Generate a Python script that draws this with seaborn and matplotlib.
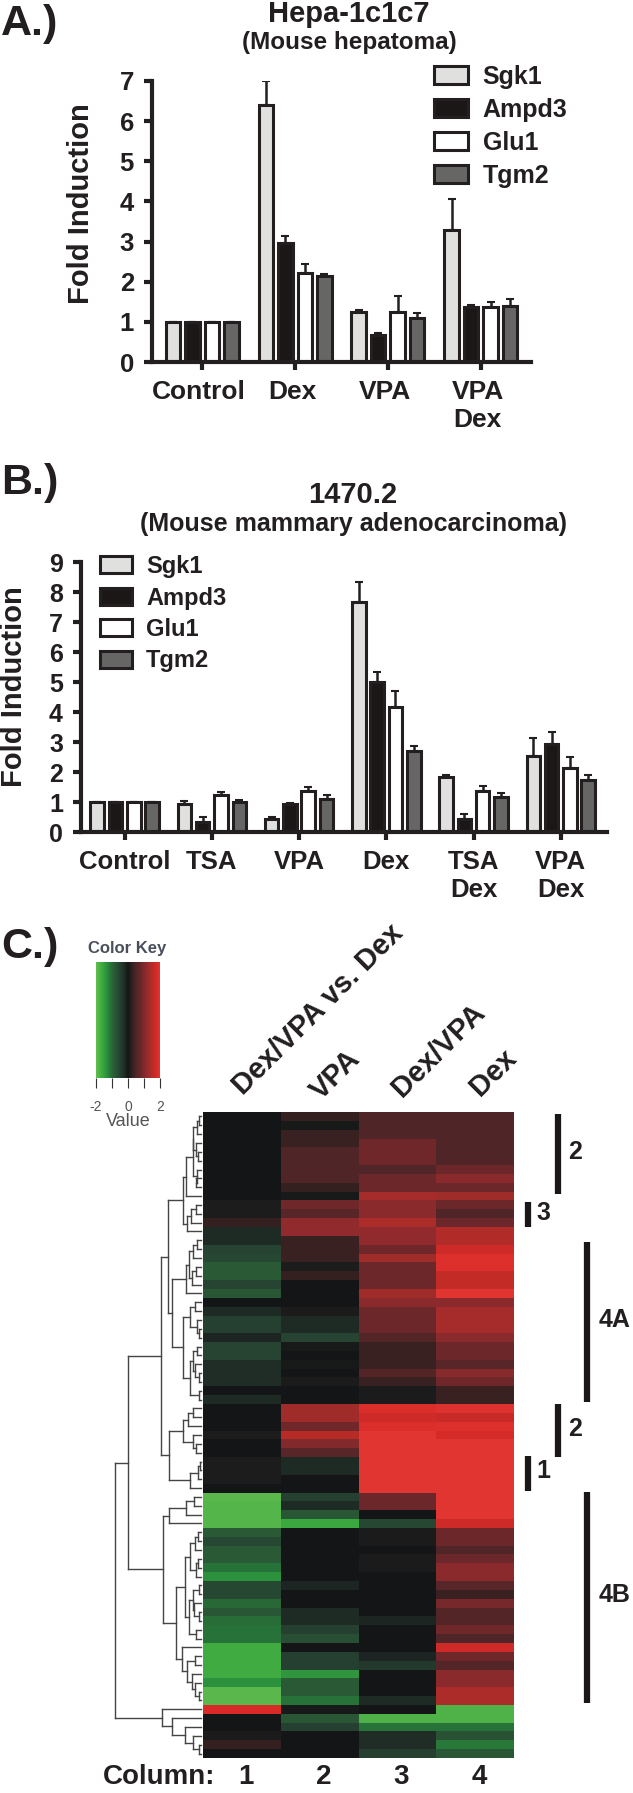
import matplotlib
matplotlib.use("Agg")
import matplotlib.pyplot as plt
from matplotlib.colors import LinearSegmentedColormap
from matplotlib.transforms import ScaledTranslation
import numpy as np
import pandas as pd
import seaborn as sns

W, H = 633, 1793
INK = "#231F20"

genes = ["Sgk1", "Ampd3", "Glu1", "Tgm2"]
gene_colors = ["#E0E0DE", "#1A1716", "#FFFFFF", "#666665"]

# panel A
groups_a = ["Control", "Dex", "VPA", "VPA\nDex"]
sgk1_a = [1, 6.4, 1.25, 3.3]
ampd3_a = [1, 2.97, 0.67, 1.38]
glu1_a = [1, 2.22, 1.25, 1.37]
tgm2_a = [1, 2.15, 1.1, 1.4]
sgk1_a_top = [1, 7.0, 1.3, 4.05]
ampd3_a_top = [1, 3.15, 0.72, 1.42]
glu1_a_top = [1, 2.43, 1.65, 1.5]
tgm2_a_top = [1, 2.2, 1.23, 1.57]

# panel B
groups_b = ["Control", "TSA", "VPA", "Dex", "TSA\nDex", "VPA\nDex"]
sgk1_b = [1, 0.92, 0.43, 7.68, 1.83, 2.52]
ampd3_b = [1, 0.33, 0.93, 5.0, 0.45, 2.93]
glu1_b = [1, 1.22, 1.37, 4.18, 1.38, 2.13]
tgm2_b = [1, 1.0, 1.1, 2.7, 1.17, 1.73]
sgk1_b_top = [1, 1.05, 0.5, 8.35, 1.9, 3.15]
ampd3_b_top = [1, 0.5, 0.98, 5.35, 0.6, 3.35]
glu1_b_top = [1, 1.35, 1.5, 4.7, 1.55, 2.5]
tgm2_b_top = [1, 1.07, 1.25, 2.87, 1.3, 1.9]

# panel C, one list per column, rows top to bottom
col_1 = [0, 0, 0, 0, 0, 0, 0, 0, 0, 0,
         .1, .1, .25, -.2, -.2, -.55, -.6, -.85, -.85, -.55,
         -.8, 0, -.2, -.5, -.5, -.15, -.55, -.55, -.25, -.25,
         -.25, 0, -.2, 0, 0, 0, .1, 0, 0, .1,
         .1, .1, 0, -1.9, -1.85, -1.85, -1.85, -.85, -.6, -.85,
         -.85, -1.1, -1.35, -.6, -.6, -1.0, -.8, -1.05, -1.1, -1.1,
         -1.65, -1.65, -1.65, -1.65, -1.35, -1.9, -1.9, 1.8, 0, 0,
         .08, .25, 0]
col_2 = [.25, .05, .3, .3, .5, .5, .5, .5, .25, .05,
         .85, .6, 1.15, 1.15, .3, .3, .3, .1, .25, 0,
         0, 0, .08, -.2, -.2, -.55, .05, 0, .05, 0,
         .08, 0, 0, 1.3, 1.3, .85, 1.5, 1.0, .6, -.2,
         -.2, 0, 0, -.5, -.2, -.8, -1.6, 0, 0, 0,
         0, 0, 0, -.15, 0, 0, -.2, -.2, -.5, -.7,
         0, -.5, -.5, -1.4, -.85, -.85, -1.1, .05, -.8, -.5,
         0, 0, 0]
col_3 = [.5, .5, .5, .85, .85, .85, .5, .8, .8, 1.35,
         1.1, 1.1, 1.4, 1.15, 1.15, .85, 1.3, .8, .8, .8,
         1.3, 1.1, .8, .8, .8, .55, .3, .3, .3, .55,
         .3, .08, .08, 1.85, 1.7, 1.85, 2, 2, 2, 2,
         2, 2, 2, .8, .8, 0, -.6, .08, .08, 0,
         .08, .08, 0, 0, 0, 0, 0, -.15, 0, 0,
         0, -.15, -.4, 0, 0, 0, -.2, 0, -1.8, -1.1,
         -.25, -.25, -.5]
col_4 = [.5, .5, .5, .5, .5, .5, .8, 1.1, .8, 1.3,
         .8, .5, .8, 1.45, 1.45, 1.7, 1.9, 1.9, 1.6, 1.6,
         2, 1.1, 1.35, 1.35, 1.35, 1.1, .8, .8, .6, 1.05,
         .85, .3, .3, 1.95, 1.65, 1.9, 1.75, 2, 2, 2,
         2, 2, 2, 2, 2, 2, 1.7, .8, .8, .5,
         .8, 1.1, 1.1, .6, .3, .9, .55, .55, .85, .5,
         1.7, .85, .55, 1.1, 1.1, 1.4, 1.4, -1.8, -1.8, -1.1,
         -.75, -1.15, -.8]
column_numbers = ["1", "2", "3", "4"]

# colour key stops, value then colour
key_values = [-2, -1.6, -1.35, -1.1, -.85, -.5, -.2, 0, .12, .25, .5, .8, 1.1, 1.35, 1.6, 1.8, 2]
key_colors = ["#62BC50", "#3AA83F", "#2C913D", "#277238", "#2A5A35", "#254030", "#1E2A24",
              "#141516", "#1E1E1E", "#33201F", "#4F2527", "#6B2729", "#8B2A2C", "#A52C2A",
              "#C22B26", "#D92A28", "#E03530"]


def n(x, kids):
    return (x, kids)


# row dendrogram: merge position and children, leaves are row numbers
top_rows = n(258, [n(278, [n(280, [n(292, [n(297, [0, 1]), 2]), n(288, [3, n(295, [4, 5])])]),
                           n(290, [6, n(287, [7, 8])])]), 9])
next_rows = n(262, [n(272, [n(288, [10, 11]), 12]), 13])
g3 = n(258, [n(266, [n(280, [n(290, [14, 15]), 16]), n(275, [n(288, [17, 18]), 19])]), 20])
g4a = n(270, [n(285, [21, 22]), n(290, [23, n(297, [24, 25])])])
g4b = n(270, [n(280, [n(290, [26, 27]), n(285, [28, n(297, [29, 30])])]), n(297, [31, 32])])
g_top = n(205, [n(250, [top_rows, next_rows]), n(215, [g3, n(250, [g4a, g4b])])])
g5a = n(250, [n(265, [n(280, [33, 34]), 35]), n(280, [36, n(288, [37, 38])])])
g5b = n(270, [n(295, [n(300, [39, 40]), 41]), 42])
g_a = n(182, [g_top, n(208, [g5a, g5b])])
g6 = n(208, [n(258, [n(282, [43, 44]), 45]), 46])
g7 = n(270, [n(285, [n(295, [47, 48]), 49]), n(287, [n(295, [50, 51]), 52])])
g8 = n(267, [n(280, [n(297, [53, 54]), n(282, [55, n(297, [56, 57])])]), n(287, [58, 59])])
g9 = n(245, [60, n(262, [n(285, [61, 62]), n(275, [63, n(285, [64, n(297, [65, 66])])])])])
g_b = n(190, [g6, n(228, [n(255, [g7, g8]), g9])])
g_low = n(187, [67, n(215, [68, n(255, [69, n(280, [70, n(297, [71, 72])])])])])
tree = n(45, [n(85, [g_a, g_b]), g_low])

# side bars of the heatmap: label, top, bottom, bar x, label x
side_bars = [("2", 1114, 1194, 558, 575), ("3", 1202, 1227, 528, 543),
             ("4A", 1242, 1402, 587, 615), ("2", 1404, 1457, 558, 575),
             ("1", 1456, 1491, 528, 543), ("4B", 1492, 1703, 587, 615)]


def px_axes(fig, left, top, right, bottom):
    return fig.add_axes([left / W, 1 - bottom / H, (right - left) / W, (bottom - top) / H])


def shift_labels(ax, dx):
    """Move the x tick labels sideways by some pixels"""
    off = ScaledTranslation(dx / 100, 0, fig.dpi_scale_trans)
    for lab in ax.get_xticklabels():
        lab.set_transform(lab.get_transform() + off)


def bar_panel(fig, box, groups, values, tops, ymax, xlim, sizes, legend_at):
    """Grouped bars with upper error bars only"""
    ax = px_axes(fig, *box)
    df = pd.DataFrame({
        "group": np.tile(groups, len(genes)),
        "gene": np.repeat(genes, len(groups)),
        "value": np.concatenate(values),
    })
    sns.barplot(data=df, x="group", y="value", hue="gene", order=groups, hue_order=genes,
                palette=gene_colors, errorbar=None, width=0.84, gap=0.26, saturation=1,
                edgecolor=INK, linewidth=2.2, ax=ax)
    for cont, top in zip(ax.containers, tops):
        xs = [b.get_x() + b.get_width() / 2 for b in cont]
        ys = [b.get_height() for b in cont]
        ax.errorbar(xs, ys, yerr=[np.zeros(len(ys)), np.array(top) - np.array(ys)], fmt="none",
                    ecolor=INK, elinewidth=1.8, capsize=3, capthick=1.5, zorder=1)
    ax.set_xlim(*xlim)
    ax.set_ylim(0, ymax)
    ax.set_yticks(range(ymax + 1))
    ax.set_xlabel("")
    ax.set_ylabel("")
    ax.tick_params(axis="both", width=3, length=6, color=INK, labelcolor=INK)
    ax.tick_params(axis="x", labelsize=sizes[0], pad=7)
    ax.tick_params(axis="y", labelsize=sizes[1], pad=7)
    for s in ["left", "bottom"]:
        ax.spines[s].set_linewidth(3)
        ax.spines[s].set_color(INK)
    sns.despine(ax=ax)
    ax.legend(loc="upper left", bbox_to_anchor=(legend_at[0] / W, 1 - legend_at[1] / H),
              bbox_transform=fig.transFigure, frameon=False, fontsize=sizes[2], borderpad=0,
              borderaxespad=0, handlelength=1.35, handleheight=0.72, handletextpad=0.6,
              labelspacing=0.36, labelcolor=INK)
    return ax


def draw_tree(ax, node, rows_y):
    """Draw a nested dendrogram, returns the x and y of the node"""
    if not isinstance(node, tuple):
        return 100 + 302 / 3, rows_y[node]
    x = 100 + node[0] / 3
    kids = [draw_tree(ax, k, rows_y) for k in node[1]]
    ys = [k[1] for k in kids]
    ax.plot([x, x], [min(ys), max(ys)], color="#444444", lw=1.0, solid_capstyle="projecting")
    for kx, ky in kids:
        ax.plot([x, kx], [ky, ky], color="#444444", lw=1.0, solid_capstyle="projecting")
    return x, (min(ys) + max(ys)) / 2


sns.set_theme(style="ticks")
plt.rcParams["font.family"] = ["Liberation Sans", "DejaVu Sans"]
plt.rcParams["font.weight"] = "bold"

fig = plt.figure(figsize=(W / 100, H / 100), dpi=100)

ax_a = bar_panel(fig, (152, 81, 531, 362), groups_a, [sgk1_a, ampd3_a, glu1_a, tgm2_a],
                 [sgk1_a_top, ampd3_a_top, glu1_a_top, tgm2_a_top], 7, (-0.54, 3.54),
                 (19, 18.5, 18), (434, 65))
shift_labels(ax_a, -3)
bar_panel(fig, (81, 562, 607, 832), groups_b, [sgk1_b, ampd3_b, glu1_b, tgm2_b],
          [sgk1_b_top, ampd3_b_top, glu1_b_top, tgm2_b_top], 9, (-0.5, 5.53),
          (18.5, 18, 17), (100, 555))

# panel C heatmap
stops = [(v + 2) / 4 for v in key_values]
cmap = LinearSegmentedColormap.from_list("gbr", list(zip(stops, key_colors)), N=512)
heat_df = pd.DataFrame({"1": col_1, "2": col_2, "3": col_3, "4": col_4})
ax_heat = px_axes(fig, 203, 1112, 514, 1758)
ax_key = px_axes(fig, 96, 962, 160, 1078)
sns.heatmap(heat_df, cmap=cmap, vmin=-2, vmax=2, ax=ax_heat, cbar_ax=ax_key, yticklabels=False,
            xticklabels=column_numbers,
            cbar_kws={"orientation": "horizontal", "ticks": [-2, -1, 0, 1, 2]})
ax_heat.tick_params(axis="x", length=0, pad=4, labelsize=20, labelcolor=INK, rotation=0)
shift_labels(ax_heat, 4)
ax_key.set_xticklabels(["-2", "", "0", "", "2"], fontsize=10, color="#555555", fontweight="normal")
ax_key.tick_params(axis="x", length=7, width=0.8, color="#333333", pad=9)
ax_key.set_xlabel("Value", fontsize=13, color="#555555", fontweight="normal", labelpad=-1)

# everything placed by pixel goes on a full figure layer
ov = fig.add_axes([0, 0, 1, 1], zorder=5)
ov.set_xlim(0, W)
ov.set_ylim(H, 0)
ov.axis("off")
ov.patch.set_alpha(0)

rows_y = 1112 + (np.arange(len(col_1)) + 0.5) * 646 / len(col_1)
draw_tree(ov, tree, rows_y)


def label(x, y, s, size, **kw):
    kw.setdefault("color", INK)
    ov.text(x, y, s, fontsize=size, ha=kw.pop("ha", "center"), va="center", **kw)


label(1, 24, "A.)", 31, ha="left")
label(1, 483, "B.)", 31, ha="left")
label(1, 947, "C.)", 31, ha="left")
label(349, 14, "Hepa-1c1c7", 21)
label(349, 42, "(Mouse hepatoma)", 17.5)
label(353, 495, "1470.2", 21)
label(353, 524, "(Mouse mammary adenocarcinoma)", 18)
label(81, 204, "Fold Induction", 21, rotation=90)
label(14, 687, "Fold Induction", 21, rotation=90)
label(127, 949, "Color Key", 12, color="#4A4F5C")
label(318, 1010, "Dex/VPA vs. Dex", 21, rotation=45)
label(336, 1075, "VPA", 21, rotation=45)
label(438, 1050, "Dex/VPA", 21, rotation=45)
label(493, 1072, "Dex", 21, rotation=45)
label(103, 1777, "Column:", 20, ha="left")

for text, y0, y1, x_bar, x_text in side_bars:
    ov.plot([x_bar, x_bar], [y0, y1], color="#1A1716", lw=4.5, solid_capstyle="butt")
    label(x_text, (y0 + y1) / 2 - 2, text, 18)

fig.savefig("out.png", dpi=100)
